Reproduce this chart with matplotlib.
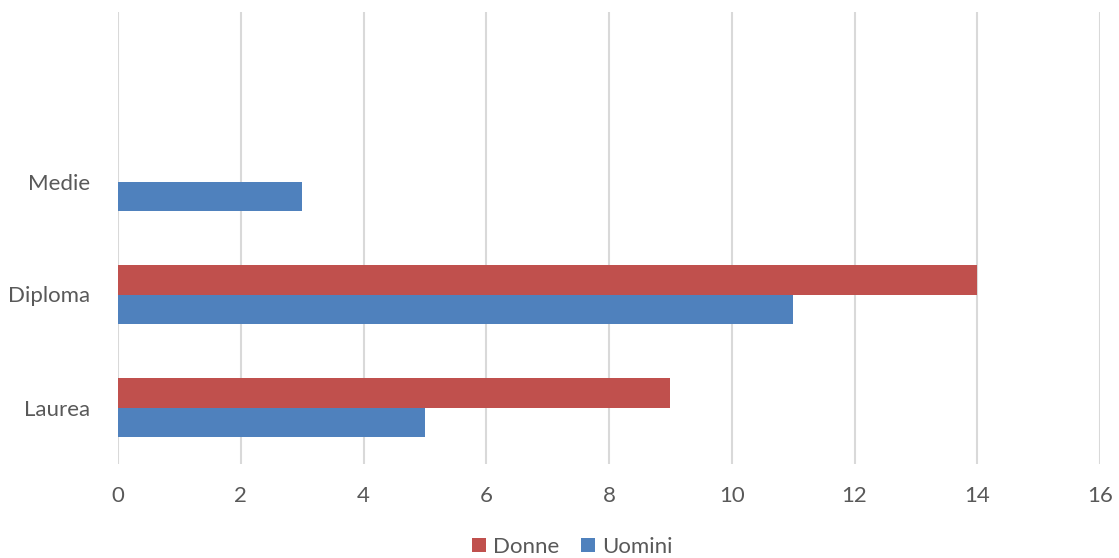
import matplotlib
matplotlib.use("Agg")
import matplotlib.pyplot as plt
import numpy as np
from matplotlib.patches import Patch

categories = ["Laurea", "Diploma", "Medie", ""]
donne = [9, 14, 0, 0]
uomini = [5, 11, 3, 0]
xticks = [0, 2, 4, 6, 8, 10, 12, 14, 16]

RED = "#C0504D"
BLUE = "#4F81BD"
TXT = "#595959"
GRID = "#D9D9D9"

plt.rcParams['font.family'] = ['Lato', 'DejaVu Sans']

fig = plt.figure(figsize=(11.19, 5.58), dpi=100)
ax = fig.add_axes([118/1119, (558-464)/558, 982/1119, 452/558])

y = np.arange(len(categories))
h = 0.257
ax.barh(y + h/2, donne, height=h, color=RED, linewidth=0, label="Donne", zorder=3)
ax.barh(y - h/2, uomini, height=h, color=BLUE, linewidth=0, label="Uomini", zorder=3)

ax.set_xlim(0, 16)
ax.set_ylim(-0.5, 3.5)
ax.set_xticks(xticks)
ax.set_xticklabels([str(v) for v in xticks], fontsize=16, color=TXT)
ax.set_yticks(y)
ax.set_yticklabels(categories, fontsize=16, color=TXT)
ax.tick_params(axis='x', length=0, pad=16)
ax.tick_params(axis='y', length=0, pad=20)
for s in ax.spines.values():
    s.set_visible(False)
ax.grid(axis='x', color=GRID, linewidth=1.5, zorder=0)
ax.set_axisbelow(True)

handles = [Patch(facecolor=RED, label="Donne"), Patch(facecolor=BLUE, label="Uomini")]
fig.legend(handles=handles, loc="center", bbox_to_anchor=(572/1119, 1 - 547/558), ncol=2,
           frameon=False, fontsize=16, labelcolor=TXT, handlelength=0.63, handleheight=0.63,
           handletextpad=0.3, columnspacing=1.0, borderpad=0)

fig.savefig("out.png", dpi=100, facecolor="white")
